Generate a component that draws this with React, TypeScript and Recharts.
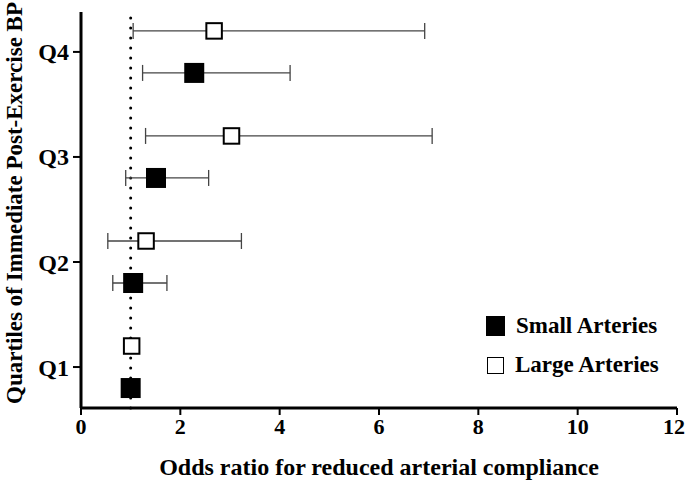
import React from "react";
import {
  ScatterChart, Scatter, XAxis, YAxis, ErrorBar, ReferenceLine, Legend, Label,
} from "recharts";

const quartiles = ["Q1", "Q2", "Q3", "Q4"];
const quartilePos = [1, 2, 3, 4];

// odds ratios with 95% CI (Q1 is the reference group)
const smallOR = [1.0, 1.05, 1.51, 2.28];
const smallLow = [1.0, 0.64, 0.9, 1.24];
const smallHigh = [1.0, 1.73, 2.57, 4.21];

const largeOR = [1.02, 1.31, 3.03, 2.68];
const largeLow = [1.02, 0.54, 1.3, 1.05];
const largeHigh = [1.02, 3.23, 7.07, 6.92];

const xTicks = [0, 2, 4, 6, 8, 10, 12];

const FONT = "'Liberation Serif', 'Times New Roman', serif";

const smallData = quartilePos.map((q, i) => ({
  or: smallOR[i],
  q: q - 0.2,
  err: [smallOR[i] - smallLow[i], smallHigh[i] - smallOR[i]],
}));

const largeData = quartilePos.map((q, i) => ({
  or: largeOR[i],
  q: q + 0.2,
  err: [largeOR[i] - largeLow[i], largeHigh[i] - largeOR[i]],
}));

const FilledSquare = (props: any) => {
  const { cx, cy } = props;
  const s = 20;
  return <rect x={cx - s / 2} y={cy - s / 2} width={s} height={s} fill="#000" />;
};

const OpenSquare = (props: any) => {
  const { cx, cy } = props;
  const s = 15.5;
  return (
    <rect x={cx - s / 2} y={cy - s / 2} width={s} height={s} fill="#fff" stroke="#000" strokeWidth={2} />
  );
};

const LegendBox = () => (
  <div style={{ fontFamily: FONT, fontWeight: "bold", fontSize: 23, color: "#000" }}>
    <div style={{ display: "flex", alignItems: "center", height: 26, marginBottom: 13 }}>
      <div style={{ width: 19, height: 20, background: "#000", marginRight: 11 }} />
      <span>Small Arteries</span>
    </div>
    <div style={{ display: "flex", alignItems: "center", height: 26 }}>
      <div style={{ width: 15, height: 15, border: "1.5px solid #000", background: "#fff", marginRight: 11, marginLeft: 1 }} />
      <span>Large Arteries</span>
    </div>
  </div>
);

export default function App() {
  return (
    <div style={{ position: "absolute", left: 0, top: 0, background: "#fff" }}>
      <ScatterChart width={685} height={485} margin={{ top: 12, right: 8, bottom: 0, left: 0 }}>
        <XAxis
          type="number"
          dataKey="or"
          domain={[0, 12]}
          ticks={xTicks}
          height={77}
          axisLine={{ stroke: "#000", strokeWidth: 3 }}
          tickLine={{ stroke: "#000", strokeWidth: 2 }}
          tickSize={7}
          tickMargin={3}
          tick={{ fill: "#000", fontSize: 22, fontWeight: "bold", fontFamily: FONT }}
        >
          <Label
            value="Odds ratio for reduced arterial compliance"
            position="insideBottom"
            offset={10}
            style={{ fill: "#000", fontSize: 24, fontWeight: "bold", fontFamily: FONT }}
          />
        </XAxis>
        <YAxis
          type="number"
          dataKey="q"
          domain={[0.61, 4.38]}
          ticks={quartilePos}
          tickFormatter={(v) => quartiles[quartilePos.indexOf(v)]}
          width={81}
          axisLine={{ stroke: "#000", strokeWidth: 3 }}
          tickLine={{ stroke: "#000", strokeWidth: 2 }}
          tickSize={8}
          tickMargin={4}
          tick={{ fill: "#000", fontSize: 24, fontWeight: "bold", fontFamily: FONT }}
        >
          <Label
            content={() => (
              <text
                x={14}
                y={203}
                transform="rotate(-90 14 203)"
                textAnchor="middle"
                dominantBaseline="central"
                style={{ fill: "#000", fontSize: 23, fontWeight: "bold", fontFamily: FONT }}
              >
                Quartiles of Immediate Post-Exercise BP
              </text>
            )}
          />
        </YAxis>
        <ReferenceLine
          x={1}
          stroke="#000"
          strokeWidth={3}
          strokeDasharray="0 10"
          strokeLinecap="round"
        />
        <Legend
          layout="horizontal"
          align="center"
          verticalAlign="middle"
          content={() => <LegendBox />}
          wrapperStyle={{ position: "absolute", left: 486, top: 313, width: 200 }}
        />
        <Scatter name="Small Arteries" data={smallData} shape={<FilledSquare />} isAnimationActive={false}>
          <ErrorBar dataKey="err" direction="x" width={8} stroke="#444" strokeWidth={1.3} />
        </Scatter>
        <Scatter name="Large Arteries" data={largeData} shape={<OpenSquare />} isAnimationActive={false}>
          <ErrorBar dataKey="err" direction="x" width={8} stroke="#444" strokeWidth={1.3} />
        </Scatter>
      </ScatterChart>
    </div>
  );
}
